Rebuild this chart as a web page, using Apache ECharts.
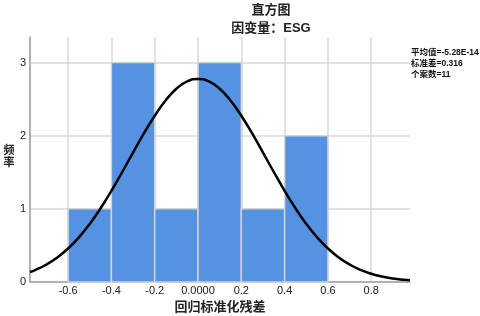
<!DOCTYPE html>
<html>
<head>
<meta charset="utf-8">
<script src="https://cdn.jsdelivr.net/npm/echarts@6/dist/echarts.min.js"></script>
<style>html,body{margin:0;padding:0;background:#fff;}#c{width:480px;height:316px;}</style>
</head>
<body>
<div id="c"></div>
<script>
// Histogram bins (regression standardized residual)
const binStart = [-0.6, -0.4, -0.2, 0.0, 0.2, 0.4];
const binEnd   = [-0.4, -0.2, 0.0, 0.2, 0.4, 0.6];
const counts   = [1, 3, 1, 3, 1, 2];
// Normal curve
const curveX = [-0.776, -0.75, -0.7, -0.65, -0.6, -0.55, -0.5, -0.45, -0.4, -0.35, -0.3, -0.25, -0.2, -0.15, -0.1, -0.05, 0, 0.05, 0.1, 0.15, 0.2, 0.25, 0.3, 0.35, 0.4, 0.45, 0.5, 0.55, 0.6, 0.65, 0.7, 0.75, 0.8, 0.85, 0.9, 0.95, 0.979];
const curveY = [0.136, 0.166, 0.239, 0.335, 0.458, 0.611, 0.794, 1.008, 1.247, 1.504, 1.770, 2.031, 2.273, 2.482, 2.642, 2.743, 2.777, 2.743, 2.642, 2.482, 2.273, 2.031, 1.770, 1.504, 1.247, 1.008, 0.794, 0.611, 0.458, 0.335, 0.239, 0.166, 0.113, 0.0746, 0.0481, 0.0303, 0.0229];
const title1 = '直方图';
const title2 = '因变量：ESG';
const statsLines = ['平均值=-5.28E-14', '标准差=0.316', '个案数=11'];
const xName = '回归标准化残差';
const yName = '频率';

const font = '"Liberation Sans", "Noto Sans CJK SC", Arial, sans-serif';
const chart = echarts.init(document.getElementById('c'), null, {renderer: 'canvas'});
chart.setOption({
  animation: false,
  backgroundColor: '#fff',
  textStyle: {fontFamily: font},
  grid: {left: 30, right: 70, top: 37, bottom: 34, containLabel: false, outerBoundsMode: 'none'},
  xAxis: {
    type: 'value', min: -0.776, max: 0.979, splitNumber: 9,
    name: xName, nameLocation: 'middle', nameGap: 18,
    nameTextStyle: {fontFamily: font, fontSize: 13, fontWeight: 'bold', color: '#222'},
    axisLine: {show: true, onZero: false, lineStyle: {color: '#999', width: 1.5}},
    axisTick: {show: false},
    axisLabel: {showMinLabel: false, showMaxLabel: false, margin: 3, fontSize: 11, color: '#222', fontFamily: font,
      formatter: v => (Math.abs(v) < 1e-9 ? '0.0000' : String(Math.round(v * 10) / 10))},
    splitLine: {show: true, showMinLine: false, showMaxLine: false, lineStyle: {color: '#d9d9d9', width: 1.5}}
  },
  yAxis: {
    type: 'value', min: 0, max: 3.35, interval: 1,
    axisLine: {show: true, onZero: false, lineStyle: {color: '#999', width: 1.5}},
    axisTick: {show: false},
    axisLabel: {showMaxLabel: false, margin: 4, fontSize: 11, color: '#222', fontFamily: font},
    splitLine: {show: true, showMinLine: false, showMaxLine: false, lineStyle: {color: '#d9d9d9', width: 1.5}}
  },
  series: [
    {
      type: 'custom',
      data: binStart.map((s, i) => [s, binEnd[i], counts[i]]),
      encode: {x: [0, 1], y: 2},
      renderItem: (params, api) => {
        const p0 = api.coord([api.value(0), api.value(2)]);
        const p1 = api.coord([api.value(1), 0]);
        return {type: 'rect', shape: {x: p0[0], y: p0[1], width: p1[0] - p0[0], height: p1[1] - p0[1]},
          style: {fill: '#5592e1', stroke: '#d4d4d4', lineWidth: 1.5}};
      },
      z: 2
    },
    {
      type: 'line', smooth: true, showSymbol: false, symbol: 'none',
      data: curveX.map((x, i) => [x, curveY[i]]),
      lineStyle: {color: '#000', width: 2.5},
      z: 3
    }
  ],
  graphic: [
    {type: 'text', x: 271, y: 10, style: {text: title1, fontSize: 13, fontWeight: 'bold', fill: '#222', fontFamily: font, align: 'center', verticalAlign: 'middle'}},
    {type: 'text', x: 271, y: 28, style: {text: title2, fontSize: 13, fontWeight: 'bold', fill: '#222', fontFamily: font, align: 'center', verticalAlign: 'middle'}},
    {type: 'text', x: 411, y: 47, style: {text: statsLines.join('\n'), fontSize: 8.5, fontWeight: 'bold', lineHeight: 11, fill: '#111', fontFamily: font, align: 'left', verticalAlign: 'top'}},
    {type: 'text', x: 9, y: 157, style: {text: yName.split('').join('\n'), fontSize: 11, lineHeight: 11.5, fontWeight: 'bold', fill: '#222', fontFamily: font, align: 'center', verticalAlign: 'middle'}}
  ]
});
</script>
</body>
</html>
